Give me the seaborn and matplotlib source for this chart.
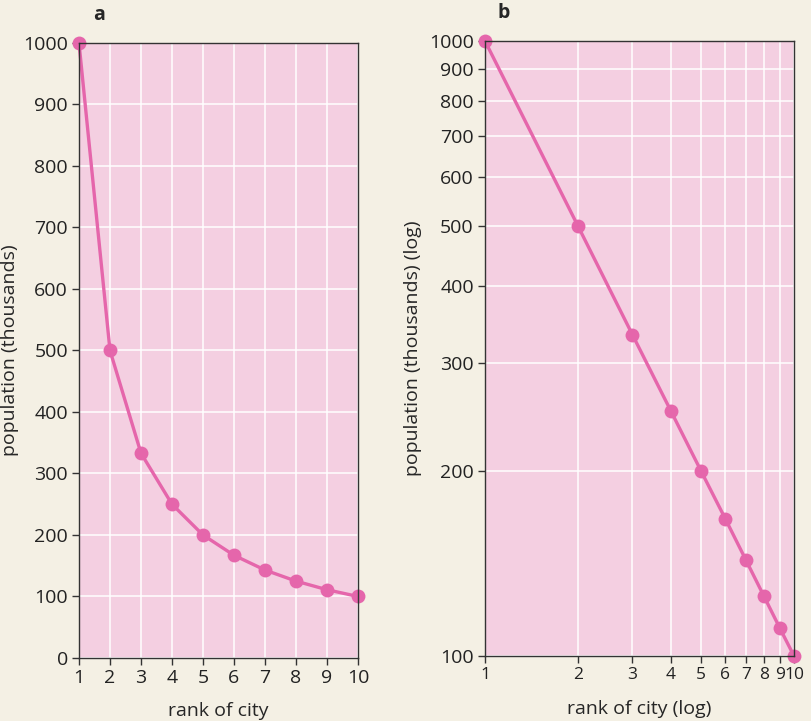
import numpy as np
import pandas as pd
import seaborn as sns
import matplotlib.pyplot as plt
from matplotlib.ticker import FixedLocator, NullLocator, FixedFormatter

# data
rank = [1, 2, 3, 4, 5, 6, 7, 8, 9, 10]
population = [1000, 500, 333, 250, 200, 167, 143, 125, 111, 100]
yticks_a = [0, 100, 200, 300, 400, 500, 600, 700, 800, 900, 1000]
yticks_b = [100, 200, 300, 400, 500, 600, 700, 800, 900, 1000]

df = pd.DataFrame({'rank': rank, 'population': population})

sns.set_theme(style='ticks')
plt.rcParams['font.family'] = ['Open Sans', 'DejaVu Sans']

bg = '#f4f0e4'
face = '#f4cfe1'
pink = '#e566ab'
dark = '#333333'

fig = plt.figure(figsize=(8.11, 7.21), dpi=100, facecolor=bg)
ax1 = fig.add_axes([0.0974, 0.0874, 0.344, 0.853])
ax2 = fig.add_axes([0.598, 0.0902, 0.381, 0.853])

for ax in (ax1, ax2):
    ax.set_facecolor(face)
    ax.grid(True, color='white', linewidth=1.1)
    ax.set_axisbelow(True)
    for s in ax.spines.values():
        s.set_color(dark)
        s.set_linewidth(1.0)
    ax.tick_params(direction='out', length=5, width=1, color=dark,
                   labelsize=14, labelcolor='#222222', pad=3)

# panel a: linear
sns.lineplot(data=df, x='rank', y='population', ax=ax1, color=pink,
             linewidth=2.4, marker='o', markersize=10, markeredgewidth=0,
             clip_on=False)
ax1.set_xlim(1, 10)
ax1.set_ylim(0, 1000)
ax1.set_xticks(rank)
ax1.set_yticks(yticks_a)
ax1.set_xlabel('rank of city', fontsize=14)
ax1.set_ylabel('population (thousands)', fontsize=14)
ax1.xaxis.set_label_coords(0.5, -0.072)
ax1.yaxis.set_label_coords(-0.215, 0.5)
ax1.text(0.05, 1.03, 'a', transform=ax1.transAxes, fontsize=14,
         fontweight='bold', va='bottom')

# panel b: log-log
sns.lineplot(data=df, x='rank', y='population', ax=ax2, color=pink,
             linewidth=2.4, marker='o', markersize=10, markeredgewidth=0,
             clip_on=False)
ax2.set_xscale('log')
ax2.set_yscale('log')
ax2.set_xlim(1, 10)
ax2.set_ylim(100, 1000)
ax2.xaxis.set_major_locator(FixedLocator(rank))
ax2.xaxis.set_major_formatter(FixedFormatter([str(r) for r in rank]))
ax2.xaxis.set_minor_locator(NullLocator())
ax2.yaxis.set_major_locator(FixedLocator(yticks_b))
ax2.yaxis.set_major_formatter(FixedFormatter([str(v) for v in yticks_b]))
ax2.yaxis.set_minor_locator(NullLocator())
ax2.tick_params(axis='x', labelsize=12.5)
ax2.set_xlabel('rank of city (log)', fontsize=14)
ax2.set_ylabel('population (thousands) (log)', fontsize=14)
ax2.xaxis.set_label_coords(0.5, -0.072)
ax2.yaxis.set_label_coords(-0.205, 0.5)
ax2.text(0.04, 1.03, 'b', transform=ax2.transAxes, fontsize=14,
         fontweight='bold', va='bottom')

fig.savefig('out.png', dpi=100, facecolor=bg)
